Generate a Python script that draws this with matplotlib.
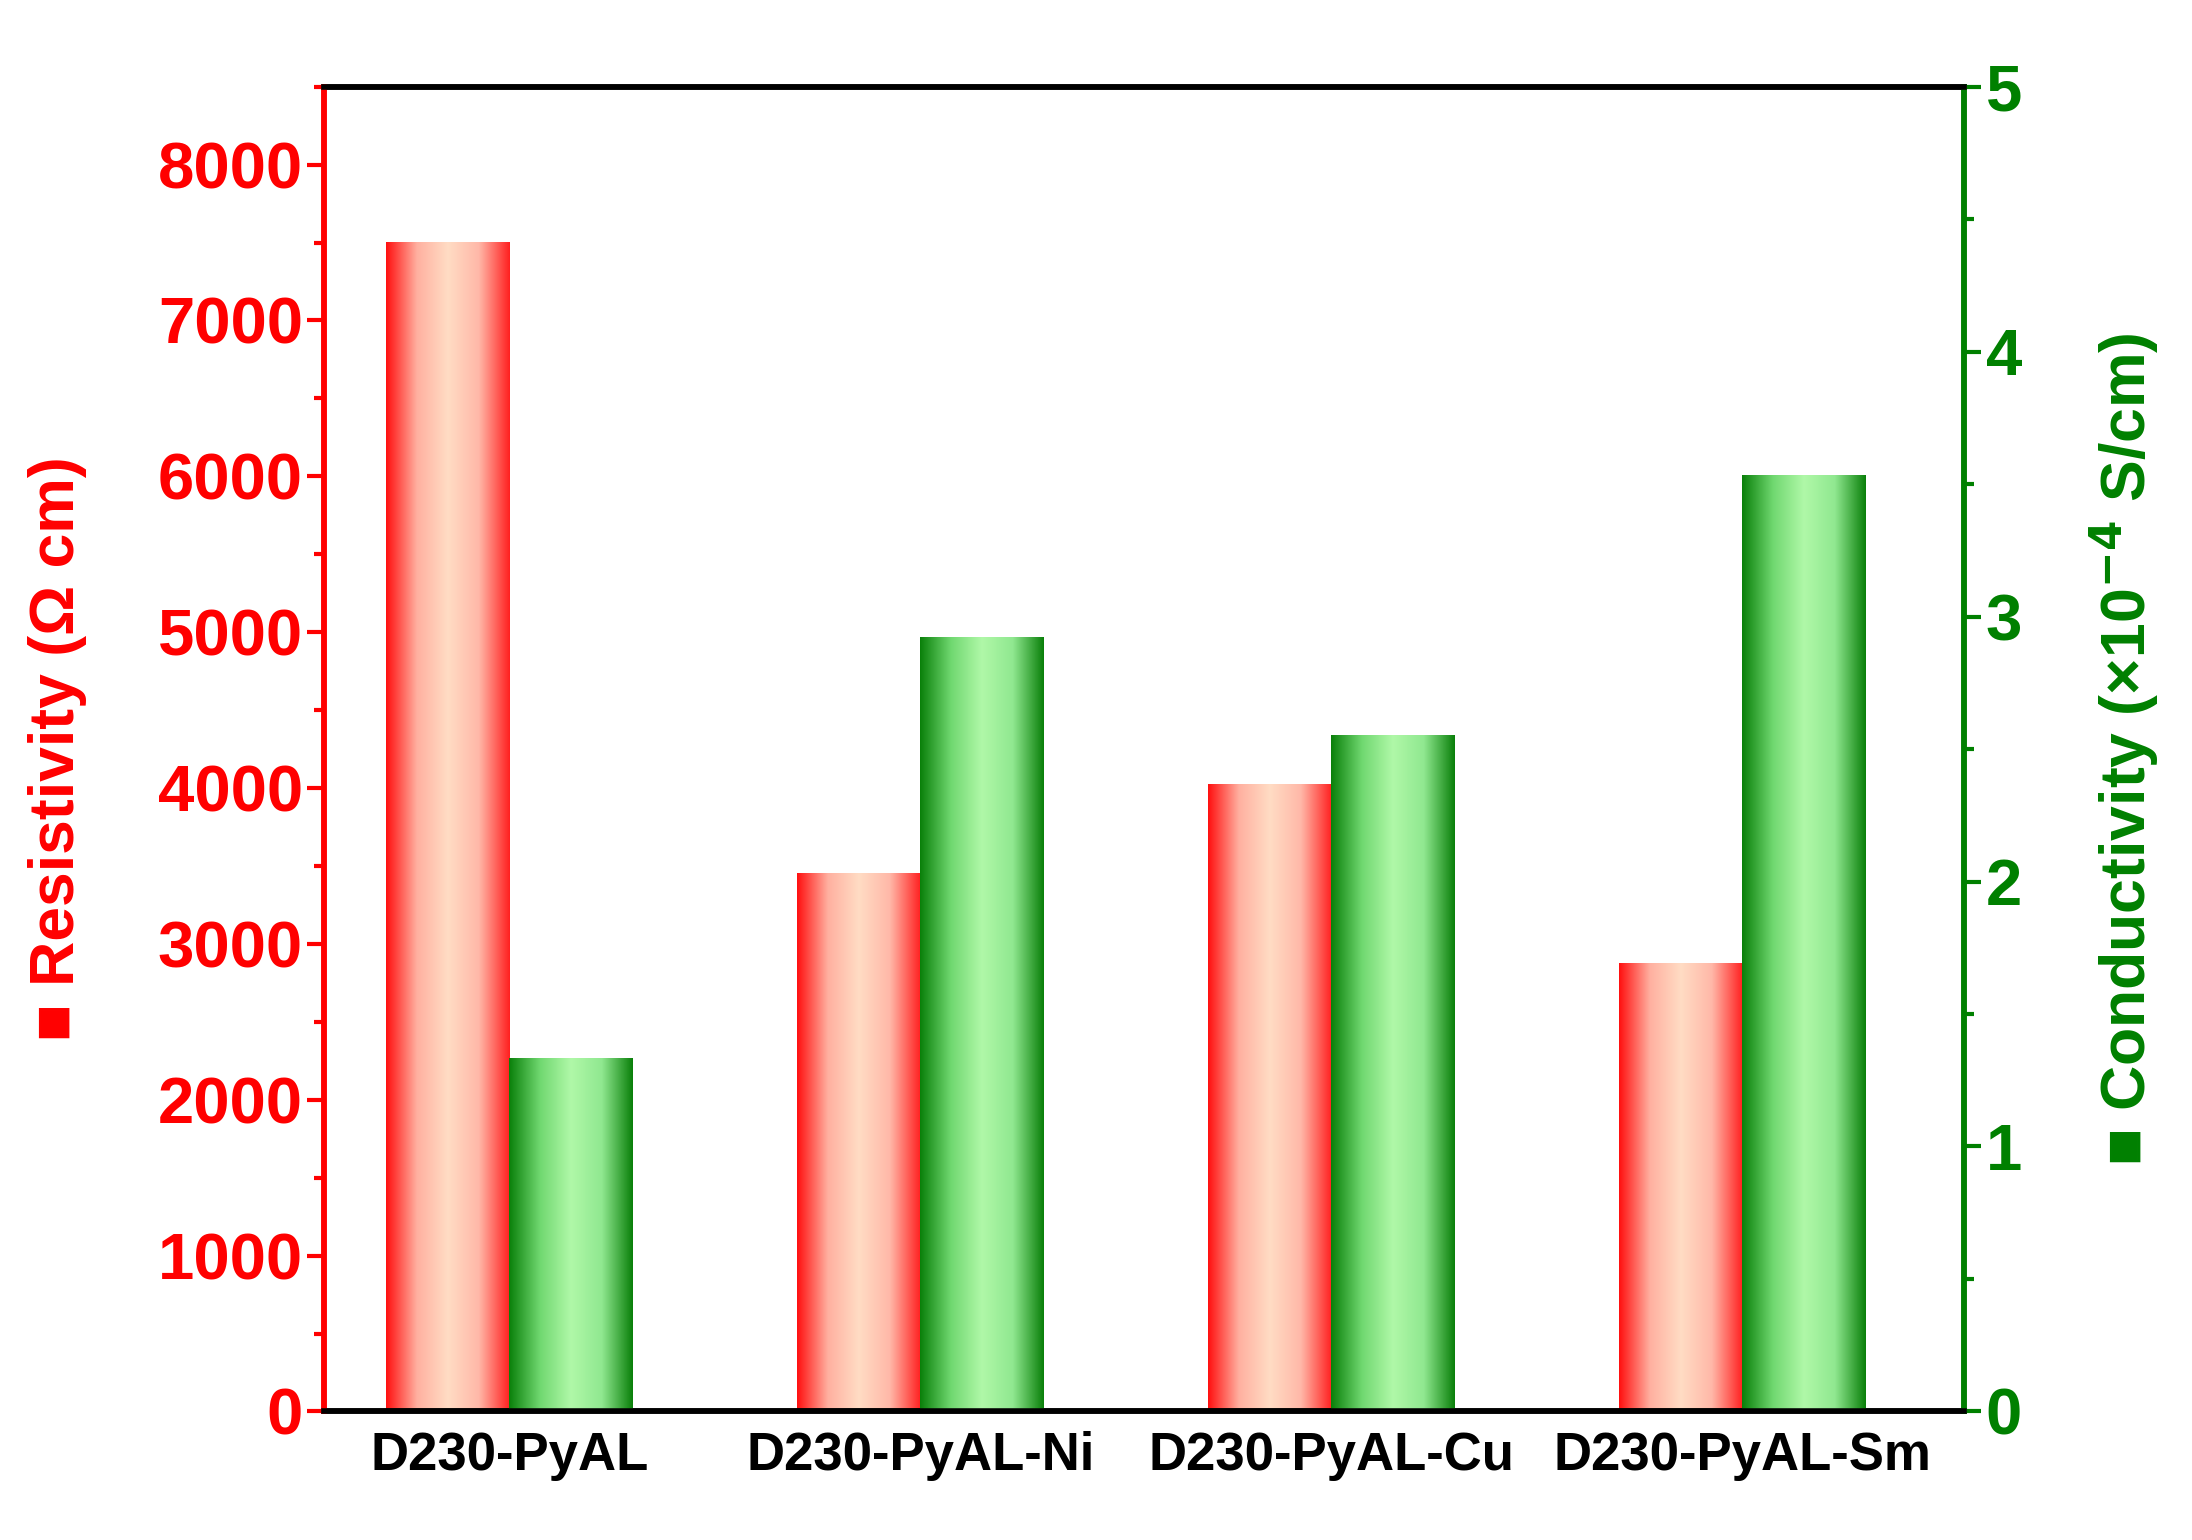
import numpy as np
import matplotlib
matplotlib.use("Agg")
import matplotlib.pyplot as plt
from matplotlib.colors import LinearSegmentedColormap
from matplotlib.ticker import MultipleLocator

categories = ["D230-PyAL", "D230-PyAL-Ni", "D230-PyAL-Cu", "D230-PyAL-Sm"]
resistivity = [7500, 3450, 4020, 2870]
conductivity = [1.33, 2.92, 2.55, 3.53]

plt.rcParams['font.family'] = ['Liberation Sans', 'DejaVu Sans']
plt.rcParams['font.weight'] = 'bold'

RED = '#ff0000'
GREEN = '#008000'
red_cmap = LinearSegmentedColormap.from_list('r', ['#ff1010', '#ffb0a0', '#ffdcc4', '#ffb8a8', '#ff2020'])
green_cmap = LinearSegmentedColormap.from_list('g', ['#0a800a', '#70d870', '#b0f8a8', '#90e890', '#0a800a'])

fig = plt.figure(figsize=(21.92, 15.4), dpi=100)
ax = fig.add_axes([232/1568, 1 - 1010/1102, (1405-232)/1568, (1010-62)/1102])
ax2 = ax.twinx()
w = 0.3
grad = np.linspace(0, 1, 256).reshape(1, -1)
x = np.arange(len(categories))
for i, v in enumerate(resistivity):
    ax.imshow(grad, cmap=red_cmap, extent=[x[i]-w, x[i], 0, v], aspect='auto', zorder=2)
for i, v in enumerate(conductivity):
    ax2.imshow(grad, cmap=green_cmap, extent=[x[i], x[i]+w, 0, v], aspect='auto', zorder=2)
ax.set_xlim(-0.45, 3.54)
ax2.set_xlim(-0.45, 3.54)
ax.set_ylim(0, 8500)
ax2.set_ylim(0, 5)

ax.set_xticks(x)
ax.set_xticklabels(categories, fontsize=38, fontweight='bold')
ax.tick_params(axis='x', length=0, pad=14)
ax.yaxis.set_major_locator(MultipleLocator(1000))
ax.yaxis.set_minor_locator(MultipleLocator(500))
ax.tick_params(axis='y', which='major', colors=RED, labelsize=47, length=12, width=3, direction='out')
ax.tick_params(axis='y', which='minor', colors=RED, length=7, width=3, direction='out')
ax2.yaxis.set_major_locator(MultipleLocator(1))
ax2.yaxis.set_minor_locator(MultipleLocator(0.5))
ax2.tick_params(axis='y', which='major', colors=GREEN, labelsize=47, length=12, width=3, direction='out')
ax2.tick_params(axis='y', which='minor', colors=GREEN, length=7, width=3, direction='out')
for a in (ax, ax2):
    for lab in a.get_yticklabels():
        lab.set_fontweight('bold')
    a.spines['top'].set_color('black')
    a.spines['bottom'].set_color('black')
    a.spines['left'].set_color(RED)
    a.spines['right'].set_color(GREEN)
    for s in a.spines.values():
        s.set_linewidth(4)

ax.set_ylabel("■ Resistivity (Ω cm)", color=RED, fontsize=45, fontweight='bold')
ax2.set_ylabel("■ Conductivity (×10$^{-4}$ S/cm)", color=GREEN, fontsize=45, fontweight='bold',
               rotation=90)
ax2.yaxis.set_label_coords(1.075, 0.5)
ax.yaxis.set_label_coords(-0.145, 0.5)
fig.savefig("out.png", dpi=100)
